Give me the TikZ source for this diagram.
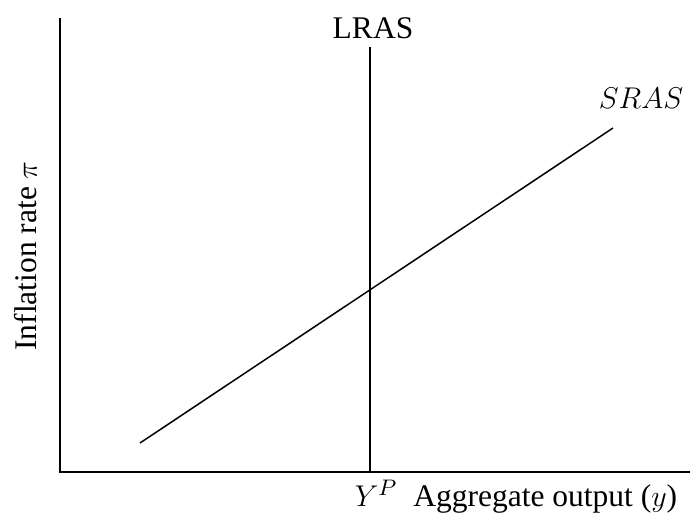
\documentclass[tikz,border=0pt,12pt]{standalone}
\usepackage{fontspec}
\setmainfont{Liberation Serif}
\usetikzlibrary{positioning}

\begin{document}
\begin{tikzpicture}[x=0.4pt, y=-0.4pt, font=\fontsize{12.6}{15}\selectfont,
    axis/.style={line width=0.8pt}, curve/.style={line width=0.6pt}]
    \useasboundingbox (0,0) rectangle (690,517);

    % Axes
    \coordinate (origin) at (60,472);
    \coordinate (ytop) at (60,18);
    \coordinate (xend) at (690,472);
    \draw[axis] (ytop) -- (origin) -- (xend);

    % Long-run aggregate supply
    \coordinate (lrasbot) at (370,472);
    \coordinate (lrastop) at (370,47);
    \draw[curve] (lrasbot) -- (lrastop);
    \node (lras) at (373,28) {LRAS};

    % Short-run aggregate supply
    \coordinate (srasbot) at (140,443);
    \coordinate (srastop) at (613,128);
    \draw[curve] (srasbot) -- (srastop);
    \node (sras) at (641,98) {$SRAS$};

    % Axis labels
    \node[rotate=90] (ylabel) at (26,256) {Inflation rate $\pi$};
    \node (xlabel) at (516,497) {$Y^P$\ \ Aggregate output ($y$)};
\end{tikzpicture}
\end{document}
